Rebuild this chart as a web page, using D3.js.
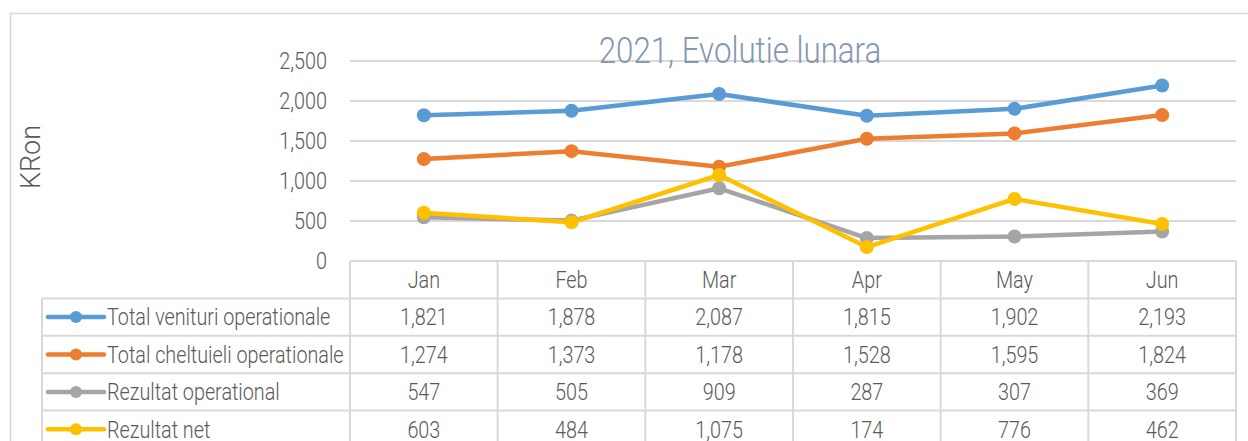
<!DOCTYPE html>
<html>
<head>
<meta charset="utf-8">
<script src="https://cdn.jsdelivr.net/npm/d3@7"></script>
<style>
  html, body { margin: 0; padding: 0; background: #fff; }
  svg { display: block; font-family: "Roboto", "DejaVu Sans Condensed", sans-serif; font-weight: 300; }
</style>
</head>
<body>
<svg id="chart" width="1248" height="441"></svg>
<script>
const months = ['Jan', 'Feb', 'Mar', 'Apr', 'May', 'Jun'];
const seriesNames = ['Total venituri operationale', 'Total cheltuieli operationale', 'Rezultat operational', 'Rezultat net'];
const venituri = [1821, 1878, 2087, 1815, 1902, 2193];
const cheltuieli = [1274, 1373, 1178, 1528, 1595, 1824];
const rezOperational = [547, 505, 909, 287, 307, 369];
const rezNet = [603, 484, 1075, 174, 776, 462];
const colors = ['#5B9BD5', '#ED7D31', '#A5A5A5', '#FFC000'];
const yTicks = [0, 500, 1000, 1500, 2000, 2500];

const series = seriesNames.map((name, i) => ({
  name: name,
  color: colors[i],
  values: [venituri, cheltuieli, rezOperational, rezNet][i]
}));

const svg = d3.select('#chart');
const grid = '#D9D9D9';
const textColor = '#595959';
const fmt = d3.format(',');
// no narrow font installed, so squeeze text horizontally
const narrow = 0.86;
const place = (px, py, sx) => `translate(${px},${py}) scale(${sx || narrow},1)`;

// outer frame (right/bottom run off the picture)
svg.append('rect')
   .attr('x', 10.5).attr('y', 13.5)
   .attr('width', 1260).attr('height', 460)
   .attr('fill', 'none').attr('stroke', grid).attr('stroke-width', 1.5);

const x = d3.scaleBand().domain(months).range([350, 1236]);
const y = d3.scaleLinear().domain([0, 2500]).range([261, 61]);
const rows = d3.scaleBand().domain(['header'].concat(seriesNames)).range([261, 261 + 5 * 37.4]);
const cx = (i) => x(months[i]) + x.bandwidth() / 2;

// gridlines
svg.append('g')
   .selectAll('line')
   .data(yTicks.filter((d) => d > 0))
   .enter()
   .append('line')
   .attr('x1', 350).attr('x2', 1236)
   .attr('y1', (d) => y(d)).attr('y2', (d) => y(d))
   .attr('stroke', grid).attr('stroke-width', 2);

// y axis labels
svg.append('g')
   .selectAll('text')
   .data(yTicks)
   .enter()
   .append('text')
   .attr('transform', (d) => place(327, y(d)))
   .attr('dy', '0.36em')
   .attr('text-anchor', 'end')
   .attr('font-size', 23)
   .attr('fill', textColor)
   .text((d) => fmt(d));

svg.append('text')
   .attr('transform', 'translate(40,157) rotate(-90)')
   .attr('text-anchor', 'middle')
   .attr('font-size', 27)
   .attr('fill', textColor)
   .text('KRon');

// data table
const table = svg.append('g');
const rowKeys = rows.domain();
const tableBottom = rows.range()[1] + 20;

// horizontal lines
table.selectAll('line.h')
     .data(rowKeys.concat(['end']))
     .enter()
     .append('line')
     .attr('class', 'h')
     .attr('x1', (d) => (d === 'header' ? 350 : 42))
     .attr('x2', 1236)
     .attr('y1', (d) => (d === 'end' ? rows.range()[1] : rows(d)))
     .attr('y2', (d) => (d === 'end' ? rows.range()[1] : rows(d)))
     .attr('stroke', grid).attr('stroke-width', 2);

// vertical lines
const colEdges = months.map((m) => x(m)).concat([x.range()[1]]);
table.selectAll('line.v')
     .data(colEdges)
     .enter()
     .append('line')
     .attr('class', 'v')
     .attr('x1', (d) => d).attr('x2', (d) => d)
     .attr('y1', rows('header')).attr('y2', tableBottom)
     .attr('stroke', grid).attr('stroke-width', 2);

table.append('line')
     .attr('x1', 42).attr('x2', 42)
     .attr('y1', rows(seriesNames[0])).attr('y2', tableBottom)
     .attr('stroke', grid).attr('stroke-width', 2);

// header months
table.selectAll('text.month')
     .data(months)
     .enter()
     .append('text')
     .attr('class', 'month')
     .attr('transform', (d, i) => place(cx(i), rows('header') + rows.bandwidth() / 2))
     .attr('dy', '0.36em')
     .attr('text-anchor', 'middle')
     .attr('font-size', 23)
     .attr('fill', textColor)
     .text((d) => d);

// series rows
const row = table.selectAll('g.row')
     .data(series)
     .enter()
     .append('g')
     .attr('class', 'row')
     .attr('transform', (d) => `translate(0,${rows(d.name) + rows.bandwidth() / 2})`);

row.append('line')
   .attr('x1', 48).attr('x2', 104)
   .attr('stroke', (d) => d.color)
   .attr('stroke-width', 4.5)
   .attr('stroke-linecap', 'round');

row.append('circle')
   .attr('cx', 76).attr('r', 6)
   .attr('fill', (d) => d.color);

row.append('text')
   .attr('transform', place(107, 0))
   .attr('dy', '0.36em')
   .attr('font-size', 23)
   .attr('fill', textColor)
   .text((d) => d.name);

row.selectAll('text.val')
   .data((d) => d.values)
   .enter()
   .append('text')
   .attr('class', 'val')
   .attr('transform', (d, i) => place(cx(i), 0))
   .attr('dy', '0.36em')
   .attr('text-anchor', 'middle')
   .attr('font-size', 23)
   .attr('fill', textColor)
   .text((d) => fmt(d));

// lines + markers
const line = d3.line()
  .x((d, i) => cx(i))
  .y((d) => y(d));

const plot = svg.append('g');
series.forEach((s) => {
  plot.append('path')
      .datum(s.values)
      .attr('d', line)
      .attr('fill', 'none')
      .attr('stroke', s.color)
      .attr('stroke-width', 4.5)
      .attr('stroke-linejoin', 'round');
  plot.selectAll(null)
      .data(s.values)
      .enter()
      .append('circle')
      .attr('cx', (d, i) => cx(i))
      .attr('cy', (d) => y(d))
      .attr('r', 7)
      .attr('fill', s.color);
});

// title
svg.append('text')
   .attr('transform', place(740, 63, 0.845))
   .attr('text-anchor', 'middle')
   .attr('font-size', 37)
   .attr('fill', '#8497B0')
   .text('2021, Evolutie lunara');
</script>
</body>
</html>
